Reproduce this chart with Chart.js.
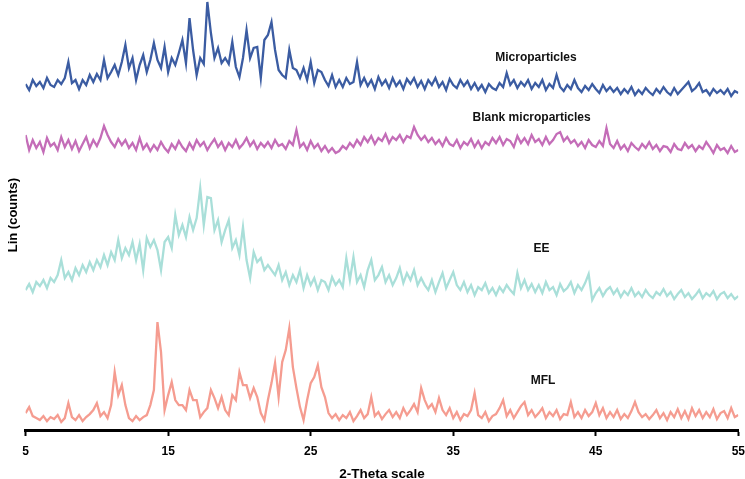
<!DOCTYPE html>
<html>
<head>
<meta charset="utf-8">
<script src="https://cdn.jsdelivr.net/npm/chart.js@4.4.1/dist/chart.umd.min.js"></script>
<style>
  html, body { margin: 0; padding: 0; background: #fff; }
  #wrap { width: 745px; height: 479px; }
</style>
</head>
<body>
<div id="wrap"><canvas id="c" width="745" height="479"></canvas></div>
<script>
// 2-Theta scan grid (degrees), 0.25° step from 5 to 55
const thetaStart = 5, thetaStep = 0.25;
const xTicks = [5, 15, 25, 35, 45, 55];
const seriesNames = ["Microparticles", "Blank microparticles", "EE", "MFL"];

// Intensities (offset-stacked, arbitrary counts), one group per degree (d, d+.25, d+.5, d+.75)
const microparticles = [
  346,340,350,344, 348,342,352,345, 343,350,346,352, 368,347,350,341, 350,345,355,348,
  356,350,370,352, 358,365,355,368, 385,362,372,350, 365,375,358,370, 387,370,362,383,
  358,372,365,377, 390,367,412,380, 355,372,366,428, 397,372,382,367, 372,366,388,363,
  353,372,400,372, 382,383,352,390, 395,408,380,360, 355,352,380,362, 360,352,362,350,
  368,347,360,358, 350,344,355,343, 350,343,352,346, 348,368,345,352, 344,350,341,353,
  345,350,342,352, 344,349,341,351, 346,352,343,349, 341,350,345,352, 343,348,340,351,
  345,342,350,344, 349,341,347,340, 345,338,346,342, 340,347,343,357, 345,350,342,348,
  344,350,341,347, 343,350,340,346, 342,355,343,339, 345,341,350,342, 338,344,340,346,
  341,337,345,339, 343,338,342,336, 341,337,343,335, 340,336,342,338, 335,341,337,343,
  338,335,342,336, 340,344,348,339, 342,347,338,340, 335,341,337,340, 336,341,334,339,
  337
];
const blankMicroparticles = [
  295,280,290,282, 288,278,292,284, 287,280,293,283, 290,281,289,279, 286,293,282,290,
  284,292,304,295, 288,283,291,285, 290,282,287,280, 292,281,286,279, 285,280,288,282,
  278,286,281,289, 283,279,287,281, 290,284,288,280, 286,291,283,288, 280,287,283,290,
  282,286,292,284, 289,281,287,283, 288,282,290,284, 286,281,289,285, 300,283,287,280,
  289,282,286,279, 284,278,282,277, 279,284,281,287, 283,290,285,293, 288,294,286,292,
  289,296,287,293, 290,295,288,294, 292,303,295,290, 294,288,292,286, 290,284,292,286,
  284,290,282,288, 285,291,283,289, 282,288,285,292, 287,293,285,291, 289,283,294,287,
  292,286,295,288, 291,285,293,286, 290,296,298,289, 293,287,290,284, 288,282,290,285,
  283,289,284,302, 286,282,289,281, 285,279,287,283, 280,286,282,288, 281,285,279,284,
  283,278,286,281, 280,287,282,285, 279,284,281,288, 283,277,285,280, 282,277,284,278,
  280
];
const ee = [
  140,146,138,148, 144,150,142,152, 148,155,170,152, 158,150,162,155, 165,158,168,160,
  170,163,175,165, 178,170,190,172, 182,175,188,170, 186,160,192,183, 190,180,160,188,
  193,182,215,195, 205,193,213,200, 212,242,205,233, 232,200,210,188, 200,210,182,190,
  175,203,170,152, 178,168,172,160, 165,160,155,165, 150,158,145,155, 148,160,142,155,
  145,152,140,150, 148,140,153,145, 150,143,172,150, 173,148,155,143, 160,170,150,155,
  163,148,155,145, 152,162,147,157, 150,160,145,152, 145,140,150,138, 148,157,142,150,
  158,145,140,148, 138,145,135,143, 140,147,137,142, 135,143,138,145, 140,136,157,142,
  150,140,146,138, 145,137,148,140, 143,135,146,139, 142,148,137,145, 140,147,156,130,
  137,142,134,140, 143,136,141,133, 139,135,142,134, 138,133,140,135, 132,138,135,141,
  134,138,131,136, 140,133,137,131, 135,140,132,137, 134,139,131,136, 138,132,136,131,
  134
];
const mfl = [
  17,23,14,12, 10,14,9,13, 11,15,8,12, 27,13,10,15, 9,13,16,20,
  27,14,18,12, 25,58,35,45, 25,12,9,14, 10,13,15,25, 40,108,78,20,
  35,48,30,25, 25,20,40,30, 30,13,18,22, 40,32,22,33, 20,15,35,30,
  58,45,45,32, 42,33,17,10, 30,47,67,33, 68,80,102,63, 42,23,10,30,
  47,53,65,43, 33,17,12,16, 10,15,12,18, 9,14,20,12, 16,33,14,18,
  11,16,20,13, 18,12,22,15, 20,26,18,42, 30,22,26,18, 32,20,15,22,
  12,18,10,16, 14,20,37,15, 12,18,9,14, 16,22,30,14, 20,12,18,24,
  28,15,20,13, 17,22,12,18, 14,20,11,16, 15,28,13,18, 12,20,14,18,
  27,15,22,12, 18,13,20,11, 16,12,19,28, 18,13,16,11, 15,20,12,17,
  10,18,13,21, 12,19,11,22, 14,20,12,18, 13,21,11,17, 19,12,22,13,
  15
];

const twoTheta = microparticles.map((_, i) => thetaStart + i * thetaStep);
const seriesValues = [microparticles, blankMicroparticles, ee, mfl];
const seriesColors = ["#3b5ca2", "#c46db8", "#a9dfd9", "#f59c90"];
// label anchor points in data coordinates
const labelAnchors = [[40.8, 372], [40.5, 312], [41.2, 181], [41.3, 49]];

const datasets = seriesValues.map((vals, k) => ({
  label: seriesNames[k],
  data: vals.map((v, i) => ({ x: twoTheta[i], y: v })),
  borderColor: seriesColors[k],
  borderWidth: 2.3,
  pointRadius: 0,
  tension: 0,
  fill: false
}));

const traceLabels = {
  id: 'traceLabels',
  afterDatasetsDraw(chart) {
    const { ctx, scales } = chart;
    ctx.save();
    ctx.fillStyle = '#111';
    ctx.textAlign = 'center';
    ctx.textBaseline = 'middle';
    ctx.font = 'bold 12px "Liberation Sans", Arial, sans-serif';
    seriesNames.forEach((name, k) => {
      const [lx, ly] = labelAnchors[k];
      ctx.fillText(name, scales.x.getPixelForValue(lx), scales.y.getPixelForValue(ly));
    });
    ctx.restore();
  }
};

new Chart(document.getElementById('c'), {
  type: 'line',
  data: { datasets },
  options: {
    responsive: false,
    animation: false,
    layout: { padding: { left: 2, right: 0, top: 0, bottom: -2 } },
    plugins: { legend: { display: false }, tooltip: { enabled: false } },
    scales: {
      x: {
        type: 'linear',
        min: 5, max: 55,
        afterBuildTicks(scale) { scale.ticks = xTicks.map(v => ({ value: v })); },
        ticks: {
          color: '#000',
          padding: 0,
          font: { family: '"Liberation Sans", Arial, sans-serif', size: 12, weight: 'bold' },
          maxRotation: 0
        },
        grid: {
          display: true, drawOnChartArea: false, drawTicks: true,
          tickLength: 14, tickWidth: 2, tickColor: '#000', tickBorderDash: [4, 40]
        },
        border: { display: true, color: '#000', width: 3 },
        title: {
          display: true, text: '2-Theta scale', color: '#000',
          padding: { top: 9, bottom: 0 },
          font: { family: '"Liberation Sans", Arial, sans-serif', size: 13.5, weight: 'bold', lineHeight: 1 }
        }
      },
      y: {
        type: 'linear',
        min: 0, max: 430,
        ticks: { display: false },
        grid: { display: false, drawTicks: false },
        border: { display: false },
        title: {
          display: true, text: 'Lin (counts)', color: '#000',
          padding: { top: 4, bottom: 4 },
          font: { family: '"Liberation Sans", Arial, sans-serif', size: 13, weight: 'bold' }
        }
      }
    }
  },
  plugins: [traceLabels]
});
</script>
</body>
</html>
